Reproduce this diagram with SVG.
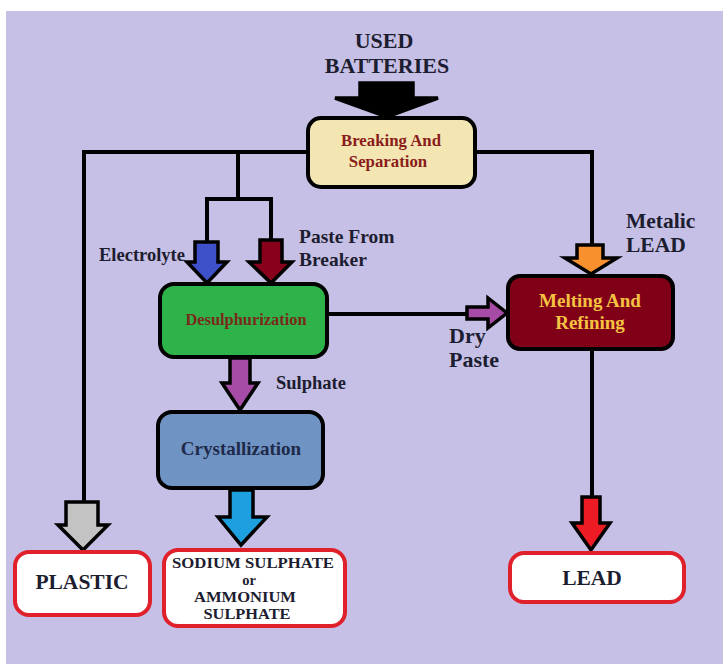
<svg xmlns="http://www.w3.org/2000/svg" width="723" height="664" viewBox="0 0 723 664" font-family="'Liberation Serif', 'DejaVu Serif', serif" font-weight="bold">
<style>
text{font-family:'Liberation Serif','DejaVu Serif',serif;font-weight:700;fill:#1d1d30}
.box{stroke:#000;stroke-width:4}
.out{fill:#fff;stroke:#e0202a;stroke-width:4}
.ln{fill:none;stroke:#000;stroke-width:4}
.arr{stroke:#000;stroke-width:3.5;stroke-linejoin:miter}
.c{text-anchor:middle}
</style>
<rect x="0" y="0" width="723" height="664" fill="#fff"/>
<rect x="6" y="11" width="717" height="653" fill="#c6c0e6"/>
<g id="connectors">
<polyline class="ln" points="308,152 84,152 84,502"/>
<polyline class="ln" points="475,152 592,152 592,245"/>
<polyline class="ln" points="238,152 238,199"/>
<polyline class="ln" points="207,242 207,199 271,199 271,240"/>
<line class="ln" x1="327" y1="314" x2="467" y2="314"/>
<line class="ln" x1="592" y1="349" x2="592" y2="497"/>
<polygon class="arr" fill="#000" points="360,83 413,83 413,98 438,98 387,117 335,98 360,98"/>
<polygon class="arr" fill="#3f51c8" points="195,242 218,242 218,262 227,262 207,283 187,262 195,262"/>
<polygon class="arr" fill="#88001b" points="260,240 282,240 282,262 292,262 271,283 249,262 260,262"/>
<polygon class="arr" fill="#f7902d" points="577,245 603,245 603,258 617,258 591,274 565,258 577,258"/>
<polygon class="arr" fill="#a64ca6" points="467,307 488,307 488,298 507,313 488,328 488,319 467,319"/>
<polygon class="arr" fill="#a64ca6" points="230,358 250,358 250,383 258,383 240,410 222,383 230,383"/>
<polygon class="arr" fill="#c3c3c3" points="66,502 98,502 98,525 108,525 83,550 58,525 66,525"/>
<polygon class="arr" fill="#1ea0e0" points="230,490 253,490 253,517 267,517 241,545 218,517 230,517"/>
<polygon class="arr" fill="#ed1c24" points="582,497 600,497 600,523 610,523 591,550 572,523 582,523"/>
</g>
<g id="used-batteries">
<text class="c" x="384" y="48" font-size="22">USED</text>
<text class="c" x="387" y="73" font-size="22">BATTERIES</text>
</g>
<g id="breaking">
<rect class="box" x="308" y="118" width="167" height="69" rx="13" fill="#f3e6b2"/>
<text class="c" x="391" y="146" font-size="16.8" style="fill:#8b1c1c">Breaking And</text>
<text class="c" x="388" y="167" font-size="16.8" style="fill:#8b1c1c">Separation</text>
</g>
<g id="desulphurization">
<rect class="box" x="160" y="284" width="167" height="73" rx="14" fill="#2db34a"/>
<text class="c" x="246" y="325" font-size="16.4" style="fill:#7a2a1a">Desulphurization</text>
</g>
<g id="melting">
<rect class="box" x="508" y="276" width="165" height="73" rx="12" fill="#800018"/>
<text class="c" x="590" y="307" font-size="19" style="fill:#f5c242">Melting And</text>
<text class="c" x="590" y="329" font-size="19" style="fill:#f5c242">Refining</text>
</g>
<g id="crystallization">
<rect class="box" x="158" y="412" width="165" height="76" rx="14" fill="#6f94c4"/>
<text class="c" x="241" y="455" font-size="19" style="fill:#1f2a4a">Crystallization</text>
</g>
<g id="plastic">
<rect class="out" x="15" y="552" width="135" height="63" rx="14"/>
<text class="c" x="82" y="589" font-size="21.5">PLASTIC</text>
</g>
<g id="sodium">
<rect class="out" x="164" y="550" width="181" height="76" rx="14"/>
<text class="c" x="253" y="568" font-size="14.5" textLength="162" lengthAdjust="spacingAndGlyphs">SODIUM SULPHATE</text>
<text class="c" x="249" y="585" font-size="14.5">or</text>
<text class="c" x="245" y="602" font-size="14.5" textLength="102" lengthAdjust="spacingAndGlyphs">AMMONIUM</text>
<text class="c" x="247" y="619" font-size="14.5" textLength="87" lengthAdjust="spacingAndGlyphs">SULPHATE</text>
</g>
<g id="lead">
<rect class="out" x="510" y="553" width="174" height="49" rx="14"/>
<text class="c" x="592" y="585" font-size="21.5">LEAD</text>
</g>
<g id="labels">
<text x="99" y="261" font-size="18.5">Electrolyte</text>
<text x="299" y="243" font-size="19.5">Paste From</text>
<text x="299" y="266" font-size="19.5">Breaker</text>
<text x="626" y="228" font-size="21.5">Metalic</text>
<text x="626" y="252" font-size="21.5">LEAD</text>
<text x="449" y="343" font-size="22">Dry</text>
<text x="449" y="367" font-size="22">Paste</text>
<text x="276" y="389" font-size="18.5">Sulphate</text>
</g>
</svg>
